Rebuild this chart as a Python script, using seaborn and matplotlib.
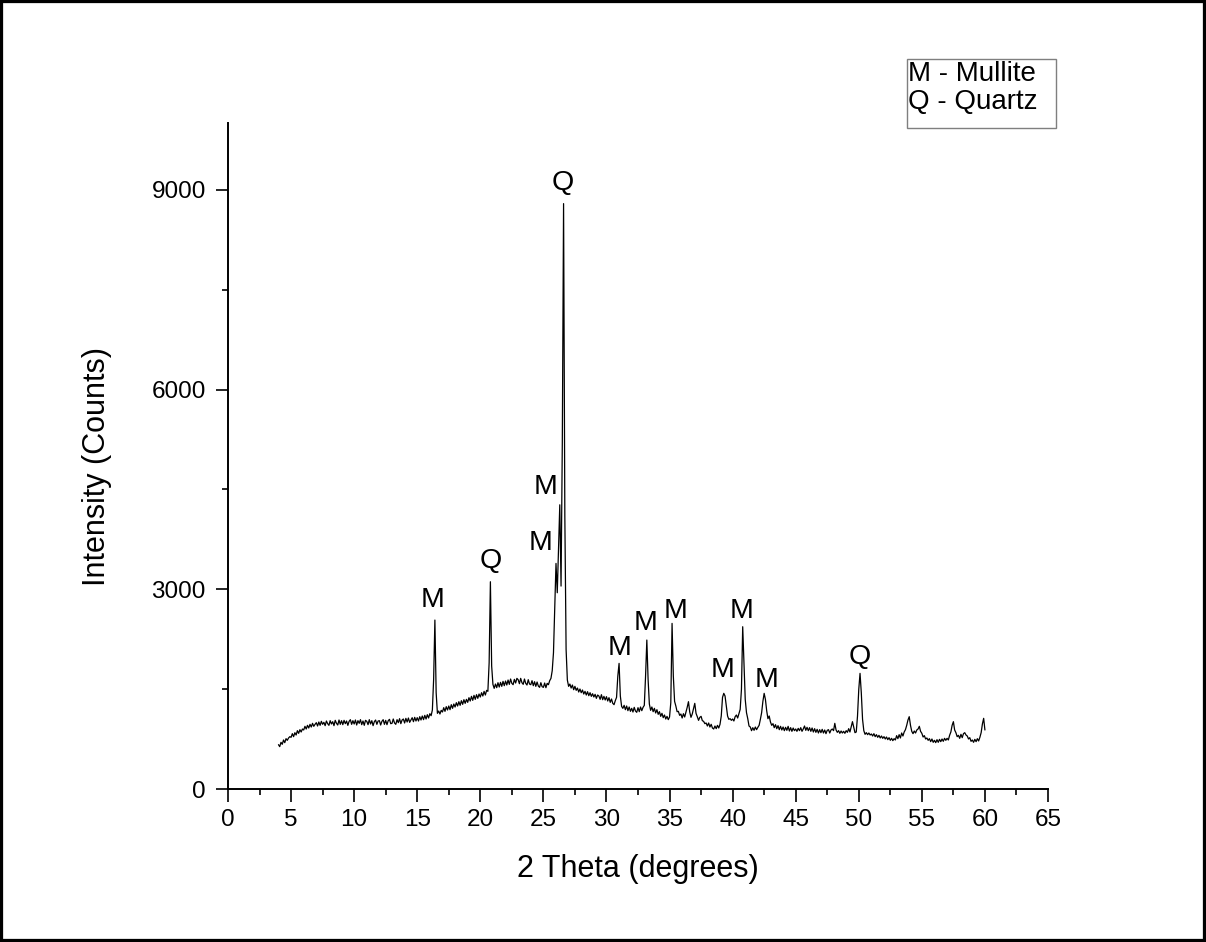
import numpy as np
import pandas as pd
import matplotlib
matplotlib.use("Agg")
import matplotlib.pyplot as plt
from matplotlib.patches import Rectangle
from matplotlib.ticker import MultipleLocator
import seaborn as sns

two_theta = [
    4.0, 4.1, 4.2, 4.3, 4.4, 4.5, 4.6, 4.7, 4.8, 4.9,
    5.0, 5.1, 5.2, 5.3, 5.4, 5.5, 5.6, 5.7, 5.8, 5.9,
    6.0, 6.1, 6.2, 6.3, 6.4, 6.5, 6.6, 6.7, 6.8, 6.9,
    7.0, 7.1, 7.2, 7.3, 7.4, 7.5, 7.6, 7.7, 7.8, 7.9,
    8.0, 8.1, 8.2, 8.3, 8.4, 8.5, 8.6, 8.7, 8.8, 8.9,
    9.0, 9.1, 9.2, 9.3, 9.4, 9.5, 9.6, 9.7, 9.8, 9.9,
    10.0, 10.1, 10.2, 10.3, 10.4, 10.5, 10.6, 10.7, 10.8, 10.9,
    11.0, 11.1, 11.2, 11.3, 11.4, 11.5, 11.6, 11.7, 11.8, 11.9,
    12.0, 12.1, 12.2, 12.3, 12.4, 12.5, 12.6, 12.7, 12.8, 12.9,
    13.0, 13.1, 13.2, 13.3, 13.4, 13.5, 13.6, 13.7, 13.8, 13.9,
    14.0, 14.1, 14.2, 14.3, 14.4, 14.5, 14.6, 14.7, 14.8, 14.9,
    15.0, 15.1, 15.2, 15.3, 15.4, 15.5, 15.6, 15.7, 15.8, 15.9,
    16.0, 16.1, 16.2, 16.3, 16.4, 16.5, 16.6, 16.7, 16.8, 16.9,
    17.0, 17.1, 17.2, 17.3, 17.4, 17.5, 17.6, 17.7, 17.8, 17.9,
    18.0, 18.1, 18.2, 18.3, 18.4, 18.5, 18.6, 18.7, 18.8, 18.9,
    19.0, 19.1, 19.2, 19.3, 19.4, 19.5, 19.6, 19.7, 19.8, 19.9,
    20.0, 20.1, 20.2, 20.3, 20.4, 20.5, 20.6, 20.7, 20.8, 20.9,
    21.0, 21.1, 21.2, 21.3, 21.4, 21.5, 21.6, 21.7, 21.8, 21.9,
    22.0, 22.1, 22.2, 22.3, 22.4, 22.5, 22.6, 22.7, 22.8, 22.9,
    23.0, 23.1, 23.2, 23.3, 23.4, 23.5, 23.6, 23.7, 23.8, 23.9,
    24.0, 24.1, 24.2, 24.3, 24.4, 24.5, 24.6, 24.7, 24.8, 24.9,
    25.0, 25.1, 25.2, 25.3, 25.4, 25.5, 25.6, 25.7, 25.8, 25.9,
    26.0, 26.1, 26.2, 26.3, 26.4, 26.5, 26.6, 26.7, 26.8, 26.9,
    27.0, 27.1, 27.2, 27.3, 27.4, 27.5, 27.6, 27.7, 27.8, 27.9,
    28.0, 28.1, 28.2, 28.3, 28.4, 28.5, 28.6, 28.7, 28.8, 28.9,
    29.0, 29.1, 29.2, 29.3, 29.4, 29.5, 29.6, 29.7, 29.8, 29.9,
    30.0, 30.1, 30.2, 30.3, 30.4, 30.5, 30.6, 30.7, 30.8, 30.9,
    31.0, 31.1, 31.2, 31.3, 31.4, 31.5, 31.6, 31.7, 31.8, 31.9,
    32.0, 32.1, 32.2, 32.3, 32.4, 32.5, 32.6, 32.7, 32.8, 32.9,
    33.0, 33.1, 33.2, 33.3, 33.4, 33.5, 33.6, 33.7, 33.8, 33.9,
    34.0, 34.1, 34.2, 34.3, 34.4, 34.5, 34.6, 34.7, 34.8, 34.9,
    35.0, 35.1, 35.2, 35.3, 35.4, 35.5, 35.6, 35.7, 35.8, 35.9,
    36.0, 36.1, 36.2, 36.3, 36.4, 36.5, 36.6, 36.7, 36.8, 36.9,
    37.0, 37.1, 37.2, 37.3, 37.4, 37.5, 37.6, 37.7, 37.8, 37.9,
    38.0, 38.1, 38.2, 38.3, 38.4, 38.5, 38.6, 38.7, 38.8, 38.9,
    39.0, 39.1, 39.2, 39.3, 39.4, 39.5, 39.6, 39.7, 39.8, 39.9,
    40.0, 40.1, 40.2, 40.3, 40.4, 40.5, 40.6, 40.7, 40.8, 40.9,
    41.0, 41.1, 41.2, 41.3, 41.4, 41.5, 41.6, 41.7, 41.8, 41.9,
    42.0, 42.1, 42.2, 42.3, 42.4, 42.5, 42.6, 42.7, 42.8, 42.9,
    43.0, 43.1, 43.2, 43.3, 43.4, 43.5, 43.6, 43.7, 43.8, 43.9,
    44.0, 44.1, 44.2, 44.3, 44.4, 44.5, 44.6, 44.7, 44.8, 44.9,
    45.0, 45.1, 45.2, 45.3, 45.4, 45.5, 45.6, 45.7, 45.8, 45.9,
    46.0, 46.1, 46.2, 46.3, 46.4, 46.5, 46.6, 46.7, 46.8, 46.9,
    47.0, 47.1, 47.2, 47.3, 47.4, 47.5, 47.6, 47.7, 47.8, 47.9,
    48.0, 48.1, 48.2, 48.3, 48.4, 48.5, 48.6, 48.7, 48.8, 48.9,
    49.0, 49.1, 49.2, 49.3, 49.4, 49.5, 49.6, 49.7, 49.8, 49.9,
    50.0, 50.1, 50.2, 50.3, 50.4, 50.5, 50.6, 50.7, 50.8, 50.9,
    51.0, 51.1, 51.2, 51.3, 51.4, 51.5, 51.6, 51.7, 51.8, 51.9,
    52.0, 52.1, 52.2, 52.3, 52.4, 52.5, 52.6, 52.7, 52.8, 52.9,
    53.0, 53.1, 53.2, 53.3, 53.4, 53.5, 53.6, 53.7, 53.8, 53.9,
    54.0, 54.1, 54.2, 54.3, 54.4, 54.5, 54.6, 54.7, 54.8, 54.9,
    55.0, 55.1, 55.2, 55.3, 55.4, 55.5, 55.6, 55.7, 55.8, 55.9,
    56.0, 56.1, 56.2, 56.3, 56.4, 56.5, 56.6, 56.7, 56.8, 56.9,
    57.0, 57.1, 57.2, 57.3, 57.4, 57.5, 57.6, 57.7, 57.8, 57.9,
    58.0, 58.1, 58.2, 58.3, 58.4, 58.5, 58.6, 58.7, 58.8, 58.9,
    59.0, 59.1, 59.2, 59.3, 59.4, 59.5, 59.6, 59.7, 59.8, 59.9,
    60.0,
]

counts = [
    670, 640, 705, 675, 740, 700, 760, 735, 770, 790,            # 4
    780, 835, 790, 850, 815, 880, 840, 895, 860, 905,            # 5
    890, 945, 905, 960, 920, 975, 935, 990, 945, 975,            # 6
    1000, 950, 1010, 960, 1020, 975, 1005, 955, 1025, 985,       # 7
    960, 1030, 980, 1015, 955, 1035, 990, 965, 1040, 975,        # 8
    1030, 970, 1035, 985, 1025, 960, 1020, 1045, 975, 1030,      # 9
    980, 1040, 965, 1030, 990, 1045, 970, 1025, 960, 1035,       # 10
    1020, 970, 1045, 980, 1030, 955, 1015, 1040, 975, 1025,      # 11
    1030, 965, 1020, 1045, 975, 1035, 970, 1030, 1050, 985,      # 12
    990, 1055, 995, 975, 1045, 1000, 1060, 985, 1040, 1055,      # 13
    995, 1065, 1010, 1070, 1005, 1040, 1075, 1015, 1080, 1025,   # 14
    1075, 1025, 1090, 1040, 1100, 1045, 1110, 1055, 1120, 1070,  # 15
    1135, 1105, 1190, 1650, 2540, 1450, 1140, 1175, 1130, 1185,  # 16
    1160, 1225, 1170, 1240, 1190, 1250, 1195, 1270, 1215, 1280,  # 17
    1235, 1300, 1250, 1315, 1260, 1330, 1275, 1345, 1290, 1350,  # 18
    1305, 1375, 1325, 1395, 1335, 1410, 1350, 1420, 1365, 1430,  # 19
    1385, 1450, 1400, 1470, 1415, 1485, 1470, 1900, 3115, 1850,  # 20
    1575, 1515, 1580, 1525, 1600, 1535, 1605, 1545, 1620, 1555,  # 21
    1625, 1565, 1640, 1575, 1655, 1590, 1570, 1650, 1595, 1665,  # 22
    1645, 1585, 1665, 1600, 1575, 1655, 1590, 1565, 1645, 1580,  # 23
    1570, 1630, 1555, 1615, 1545, 1610, 1550, 1530, 1600, 1540,  # 24
    1530, 1595, 1525, 1590, 1570, 1630, 1665, 1780, 2050, 2700,  # 25
    3390, 2950, 3600, 4270, 3050, 5200, 8790, 4100, 2100, 1640,  # 26
    1545, 1580, 1520, 1565, 1495, 1545, 1485, 1520, 1460, 1505,  # 27
    1450, 1490, 1430, 1470, 1415, 1465, 1405, 1450, 1395, 1435,  # 28
    1385, 1425, 1365, 1415, 1400, 1350, 1420, 1345, 1395, 1340,  # 29
    1390, 1325, 1375, 1305, 1355, 1290, 1270, 1330, 1380, 1700,  # 30
    1890, 1400, 1245, 1215, 1260, 1195, 1250, 1180, 1235, 1170,  # 31
    1215, 1160, 1230, 1175, 1155, 1225, 1165, 1235, 1180, 1230,  # 32
    1260, 1700, 2240, 1650, 1280, 1185, 1235, 1165, 1215, 1145,  # 33
    1195, 1125, 1165, 1095, 1140, 1075, 1115, 1055, 1095, 1045,  # 34
    1085, 1300, 2490, 1700, 1320, 1250, 1165, 1170, 1110, 1130,  # 35
    1070, 1135, 1085, 1155, 1230, 1315, 1160, 1080, 1130, 1210,  # 36
    1290, 1140, 1090, 1035, 1080, 1095, 1030, 1020, 985, 995,    # 37
    950, 995, 935, 975, 920, 905, 950, 910, 960, 920,            # 38
    975, 1100, 1380, 1440, 1400, 1250, 1100, 1050, 1060, 1035,   # 39
    1055, 1025, 1090, 1115, 1070, 1135, 1200, 1500, 2440, 1900,  # 40
    1350, 1150, 1060, 950, 935, 880, 925, 885, 935, 895,         # 41
    930, 960, 1050, 1150, 1320, 1440, 1350, 1180, 1060, 1100,    # 42
    1010, 960, 985, 925, 970, 910, 955, 895, 945, 890,           # 43
    935, 880, 930, 885, 945, 875, 925, 870, 920, 880,            # 44
    905, 870, 915, 880, 925, 870, 905, 950, 885, 930,            # 45
    880, 925, 870, 920, 860, 910, 855, 900, 845, 895,            # 46
    850, 900, 845, 890, 835, 885, 895, 845, 890, 905,            # 47
    880, 990, 890, 855, 880, 840, 875, 845, 870, 840,            # 48
    880, 855, 910, 860, 940, 1015, 930, 850, 860, 1100,          # 49
    1500, 1740, 1450, 1050, 880, 825, 850, 820, 845, 815,        # 50
    830, 800, 835, 790, 820, 780, 810, 770, 800, 765,            # 51
    790, 755, 785, 745, 775, 735, 765, 730, 760, 740,            # 52
    805, 760, 820, 770, 845, 800, 860, 895, 960, 1040,           # 53
    1090, 960, 870, 835, 875, 845, 890, 905, 945, 870,           # 54
    840, 785, 805, 755, 770, 735, 760, 715, 755, 705,            # 55
    735, 700, 745, 705, 750, 715, 755, 720, 765, 735,            # 56
    765, 740, 810, 860, 960, 1015, 890, 850, 790, 810,           # 57
    765, 825, 775, 835, 850, 815, 800, 755, 775, 720,            # 58
    740, 705, 750, 715, 760, 725, 780, 850, 980, 1065,           # 59
    890,                                                         # 60
]

# phase labels above the peaks
peak_labels = ["M", "Q", "M", "M", "Q", "M", "M", "M", "M", "M", "M", "Q"]
peak_label_x = [16.25, 20.85, 24.78, 25.18, 26.52, 31.04, 33.06, 35.51, 39.19, 40.71, 42.72, 50.08]
peak_label_y = [2840, 3420, 3700, 4540, 9095, 2120, 2495, 2675, 1790, 2675, 1640, 1985]

x_ticks = [0, 5, 10, 15, 20, 25, 30, 35, 40, 45, 50, 55, 60, 65]
y_ticks = [0, 3000, 6000, 9000]

legend_lines = ["M - Mullite", "Q - Quartz"]

assert len(two_theta) == len(counts)
df = pd.DataFrame({"two_theta": two_theta, "counts": counts})

# ---------------- styling ----------------
sns.set_theme(style="ticks")
plt.rcParams["font.family"] = ["Liberation Sans", "DejaVu Sans"]

fig = plt.figure(figsize=(12.06, 9.42), dpi=100)
ax = fig.add_axes([228 / 1206, 1 - 789.3 / 942, 820 / 1206, (789.3 - 123) / 942])

sns.lineplot(data=df, x="two_theta", y="counts", ax=ax, color="black",
             linewidth=0.9, estimator=None, sort=False)

ax.set_xlim(0, 65)
ax.set_ylim(0, 10000)
ax.set_xticks(x_ticks)
ax.set_yticks(y_ticks)
ax.xaxis.set_minor_locator(MultipleLocator(2.5))
ax.yaxis.set_minor_locator(MultipleLocator(1500))

for side in ["top", "right"]:
    ax.spines[side].set_visible(False)
for side in ["left", "bottom"]:
    ax.spines[side].set_linewidth(1.4)
    ax.spines[side].set_color("black")

ax.tick_params(axis="both", which="major", direction="out", length=9, width=1.2,
               color="black", labelsize=17.5, labelcolor="black")
ax.tick_params(axis="both", which="minor", direction="out", length=4.5, width=1.2,
               color="black")
ax.tick_params(axis="x", which="major", pad=5.5)
ax.tick_params(axis="y", which="major", pad=7)

ax.set_xlabel("2 Theta (degrees)", fontsize=22, color="black")
ax.set_ylabel("Intensity (Counts)", fontsize=22, color="black")
ax.xaxis.set_label_coords(0.5, -0.097)
ax.yaxis.set_label_coords(-0.141, 0.485)

for lab, lx, ly in zip(peak_labels, peak_label_x, peak_label_y):
    ax.text(lx, ly, lab, ha="center", va="center", fontsize=20.5, color="black")

# legend box (plain text in a grey frame)
fig.patches.append(Rectangle((906.7 / 1206, 1 - 128.3 / 942), (1056 - 906.7) / 1206,
                             (128.3 - 59) / 942, transform=fig.transFigure,
                             fill=False, edgecolor="#7f7f7f", linewidth=1.0))
fig.text(908 / 1206, 1 - 80.7 / 942, legend_lines[0], ha="left", va="baseline",
         fontsize=20, color="black")
fig.text(908 / 1206, 1 - 108.5 / 942, legend_lines[1], ha="left", va="baseline",
         fontsize=20, color="black")

# black frame around the whole figure
fig.patches.append(Rectangle((0, 0), 1, 1, transform=fig.transFigure, fill=False,
                             edgecolor="black", linewidth=4.5))

fig.savefig("out.png", dpi=100, facecolor="white")
